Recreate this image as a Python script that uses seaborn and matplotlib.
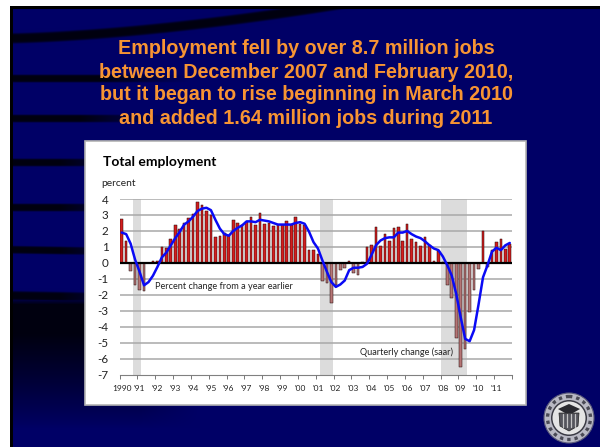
import numpy as np
import pandas as pd
import matplotlib
matplotlib.use("Agg")
import matplotlib.pyplot as plt
from matplotlib.patches import Circle, Rectangle, Polygon
import seaborn as sns

HEADLINE = ["Employment fell by over 8.7 million jobs",
            "between December 2007 and February 2010,",
            "but it began to rise beginning in March 2010",
            "and added 1.64 million jobs during 2011"]
YEAR_LABELS = ["1990", "'91", "'92", "'93", "'94", "'95", "'96", "'97", "'98", "'99", "'00",
               "'01", "'02", "'03", "'04", "'05", "'06", "'07", "'08", "'09", "'10", "'11"]
Y_TICKS = list(range(-7, 5))

# Quarterly change, seasonally adjusted annual rate, 1990Q1 to 2011Q4
quarterly_change = [
    2.75, 1.35, -0.5, -1.4,
    -1.7, -1.75, 0.0, 0.1,
    0.1, 1.0, 0.95, 1.5,
    2.4, 2.15, 2.5, 2.8,
    3.05, 3.8, 3.6, 3.25,
    3.0, 1.6, 1.7, 1.85,
    1.75, 2.7, 2.5, 2.4,
    2.55, 2.85, 2.35, 3.15,
    2.45, 2.5, 2.3, 2.4,
    2.4, 2.6, 2.35, 2.85,
    2.45, 2.4, 0.8, 0.8,
    0.55, -1.1, -1.25, -2.5,
    -1.4, -0.45, -0.3, 0.15,
    -0.6, -0.75, 0.05, 1.0,
    1.15, 2.25, 1.05, 1.8,
    1.4, 2.2, 2.25, 1.4,
    2.45, 1.5, 1.3, 1.05,
    1.6, 1.1, 0.15, 0.75,
    0.05, -1.35, -2.2, -4.7,
    -6.5, -5.4, -3.1, -1.7,
    -0.35, 2.0, -0.25, 0.8,
    1.3, 1.5, 0.85, 1.2,
]
# Percent change from a year earlier
yearly_change = [
    1.9, 1.8, 1.2, 0.2,
    -0.55, -1.4, -1.2, -0.8,
    -0.25, 0.35, 0.65, 1.1,
    1.55, 1.95, 2.4, 2.6,
    2.9, 3.25, 3.4, 3.45,
    3.3, 2.7, 2.15, 1.8,
    1.7, 2.0, 2.2, 2.35,
    2.6, 2.6, 2.55, 2.7,
    2.65, 2.6, 2.5, 2.4,
    2.4, 2.4, 2.4, 2.5,
    2.55, 2.45, 1.95, 1.3,
    0.9, 0.15, -0.55, -1.2,
    -1.5, -1.35, -1.1, -0.45,
    -0.3, -0.3, -0.25, -0.05,
    0.5, 1.1, 1.4, 1.55,
    1.6, 1.6, 1.9, 1.9,
    2.0, 1.8, 1.65, 1.55,
    1.35, 1.1, 0.9, 0.8,
    0.4, -0.15, -0.8, -1.95,
    -3.4, -4.75, -4.9, -4.2,
    -2.6, -0.9, -0.15, 0.7,
    0.95, 0.8, 1.1, 1.25,
]
# Recessions, in quarter positions
recessions = [(2.5, 4.3), (44.5, 47.4), (71.6, 77.4)]

sns.set_theme(style="white")
plt.rcParams["font.family"] = ["Lato", "DejaVu Sans"]

W, H = 600, 447
fig = plt.figure(figsize=(W / 100, H / 100), dpi=100, facecolor="white")


def px_axes(left, top, right, bottom, **kw):
    return fig.add_axes([left / W, 1 - bottom / H, (right - left) / W, (bottom - top) / H], **kw)


# Slide background: navy with dark swooshes fading to the right
bg = px_axes(0, 0, W, H)
bg.set_xlim(0, W)
bg.set_ylim(H, 0)
bg.axis("off")

yy, xx = np.mgrid[0:H, 0:W]
dark = np.zeros((H, W))
swooshes = [(38, 28, 430, 5.0, 1.6), (78, 0, 190, 3.8, 1), (118, 0, 170, 3.8, 1), (162, 0, 150, 3.8, 1),
            (207, 0, 150, 3.8, 1), (249, -5, 150, 3.8, 1), (295, -5, 150, 4.5, 1)]
for y0, rise, reach, half, power in swooshes:
    centre = y0 - rise * (xx / 300.0) ** power
    fade = np.clip((reach - xx) / 90.0, 0, 1)
    dark = np.maximum(dark, fade * np.exp(-((yy - centre) / half) ** 6))
low = np.clip((yy - 296) / 8.0, 0, 1) * np.clip((428 - yy) / 95.0, 0, 1) ** 0.9
dark = np.maximum(dark, low * np.clip((200 - xx) / 60.0, 0, 1))
navy = np.array([0, 0, 0.40])
img = navy[None, None, :] * (1 - 0.85 * dark[..., None])
bg.imshow(img, extent=(0, W, H, 0), aspect="auto", zorder=0, interpolation="bilinear")
bg.set_xlim(0, W)
bg.set_ylim(H, 0)

# Slide edges
bg.add_patch(Rectangle((0, 0), W, 6, color="white", zorder=1, lw=0))
bg.add_patch(Rectangle((0, 0), 10, H, color="white", zorder=1, lw=0))
bg.add_patch(Rectangle((10, 6), W - 10, 3, color="black", zorder=1, lw=0))
bg.add_patch(Rectangle((10, 6), 3, H - 6, color="black", zorder=1, lw=0))

# Chart panel
bg.add_patch(Rectangle((84.5, 140.5), 441.5, 264, facecolor="white", edgecolor="#b4b4b4", lw=1.2, zorder=2))

for line, y in zip(HEADLINE, [49, 72, 95, 118]):
    bg.text(306, y, line, color="#F79433", fontsize=14.2, fontweight="bold",
            family=["Liberation Sans"], ha="center", va="center", zorder=3)

bg.text(103, 162, "Total employment", color="black", fontsize=10, fontweight="bold",
        ha="left", va="center", zorder=3)
bg.text(101, 183, "percent", color="#222222", fontsize=7.4, ha="left", va="center", zorder=3)

# Federal Reserve seal built from concentric rings
sx, sy = 569, 418
bg.add_patch(Circle((sx, sy), 25, facecolor="#b9b9c4", edgecolor="#5a5a7a", lw=0.8, zorder=3))
bg.add_patch(Circle((sx, sy), 21.5, facecolor="none", edgecolor="#4a4a55", lw=2.4, ls=(0, (1, 1.2)), zorder=3))
bg.add_patch(Circle((sx, sy), 18, facecolor="#3a3a44", lw=0, zorder=3))
bg.add_patch(Circle((sx, sy), 16.5, facecolor="#e4e4e4", lw=0, zorder=3))
bg.add_patch(Polygon([(sx - 10, sy - 5), (sx + 10, sy - 5), (sx + 9, sy + 8), (sx, sy + 13), (sx - 9, sy + 8)],
                     closed=True, facecolor="#55555c", edgecolor="#222222", lw=0.5, zorder=4))
for dx in (-6, -2, 2, 6):
    bg.plot([sx + dx, sx + dx], [sy - 4, sy + 9], color="#c4c4c4", lw=0.9, zorder=5)
bg.add_patch(Polygon([(sx - 11, sy - 9), (sx, sy - 14), (sx + 11, sy - 9), (sx + 4, sy - 5), (sx - 4, sy - 5)],
                     closed=True, facecolor="#2a2a30", lw=0, zorder=4))

# Plot area
ax = px_axes(119.5, 199, 512, 374.8)
ax.patch.set_alpha(0)
frame = pd.DataFrame({
    "quarter": np.arange(len(quarterly_change)),
    "quarterly": quarterly_change,
    "yearly": yearly_change,
})
frame["sign"] = np.where(frame["quarterly"] < 0, "down", "up")

for start, end in recessions:
    ax.axvspan(start, end, facecolor="#dcdcdc", lw=0, zorder=0)
ax.set_axisbelow(False)
for tick in Y_TICKS:
    if tick not in (0, -7):
        ax.axhline(tick, color="#a8a8a8", lw=1.1, zorder=1)

sns.barplot(data=frame, x="quarter", y="quarterly", hue="sign", dodge=False, legend=False,
            palette={"up": "#F00000", "down": "#C06A6A"}, width=0.58, ax=ax,
            edgecolor="#200808", linewidth=0.35, zorder=2)
ax.axhline(0, color="black", lw=1.6, zorder=3)
sns.lineplot(data=frame, x="quarter", y="yearly", color="#0A0AF5", lw=1.8, ax=ax, zorder=4,
             errorbar=None)

ax.set_xlim(-0.5, 87.5)
ax.set_ylim(-7, 4)
ax.set_xlabel("")
ax.set_ylabel("")
ax.set_yticks(Y_TICKS)
ax.set_yticklabels([str(t) for t in Y_TICKS], fontsize=8.4, color="#222222")
ax.set_xticks(np.arange(-0.5, 88, 4))
ax.set_xticklabels([""] * 23)
ax.tick_params(axis="y", length=0, pad=8)
ax.tick_params(axis="x", length=3, width=0.7, color="#777777", direction="out", bottom=True)
for year, label in enumerate(YEAR_LABELS):
    ax.annotate(label, xy=(year * 4 - 0.5, -7), xytext=(1.5, -7), textcoords="offset points",
                fontsize=6.0, color="#222222", ha="center", va="top")
for name, spine in ax.spines.items():
    spine.set_visible(name == "bottom")
ax.spines["bottom"].set_color("#808080")
ax.spines["bottom"].set_linewidth(0.8)

ax.text(7.46, -1.49, "Percent change from a year earlier", fontsize=6.6, color="#222222",
        ha="left", va="center", zorder=6)
ax.text(53.4, -5.58, "Quarterly change (saar)", fontsize=6.6, color="#222222",
        ha="left", va="center", zorder=6)

fig.savefig("out.png", dpi=100, facecolor="white")
